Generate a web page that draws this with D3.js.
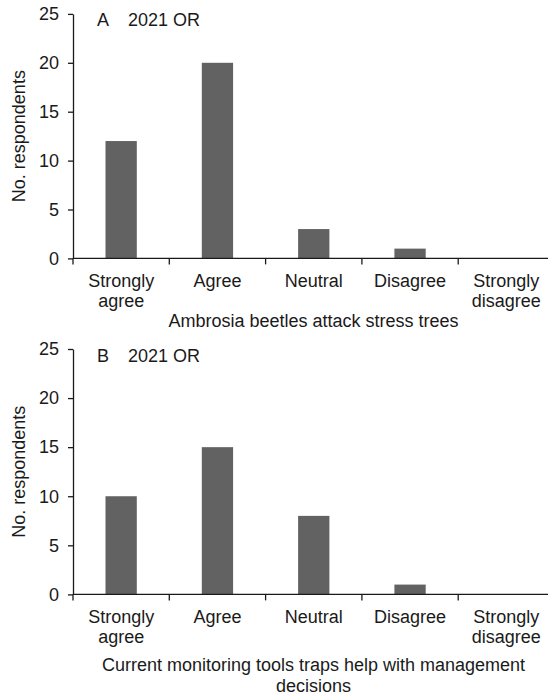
<!DOCTYPE html>
<html><head><meta charset="utf-8">
<script src="https://cdn.jsdelivr.net/npm/d3@7"></script>
<style>body{margin:0;background:#fff}svg{display:block}text{font-family:"Liberation Sans",Arial,sans-serif;fill:#1a1a1a}</style>
</head><body>
<svg id="c" width="548" height="697"></svg>
<script>
const categories = [["Strongly","agree"],["Agree"],["Neutral"],["Disagree"],["Strongly","disagree"]];
const categoryKeys = ["Strongly agree","Agree","Neutral","Disagree","Strongly disagree"];
const valuesA = [12, 20, 3, 1, 0];
const valuesB = [10, 15, 8, 1, 0];
const yTicks = [0, 5, 10, 15, 20, 25];
const panelLabels = ["A", "B"];
const panelSubtitle = "2021 OR";
const xTitles = [["Ambrosia beetles attack stress trees"], ["Current monitoring tools traps help with management","decisions"]];
const yTitle = "No. respondents";

const svg = d3.select("#c");
const x = d3.scaleBand().domain(categoryKeys).range([73, 554.5]).paddingInner(0).paddingOuter(0);
const barW = x.bandwidth() * 0.325;
const panels = [
  {vals: valuesA, y0: 258.4, y1: 13.9, titleOff: 68.5},
  {vals: valuesB, y0: 594.4, y1: 349, titleOff: 76.5}
];
panels.forEach((p, i) => {
  const y = d3.scaleLinear().domain([0, 25]).range([p.y0, p.y1]);
  const g = svg.append("g");
  g.selectAll("rect").data(p.vals).enter().append("rect")
    .attr("x", (d, j) => x(categoryKeys[j]) + x.bandwidth()/2 - barW/2)
    .attr("y", d => y(d))
    .attr("width", barW)
    .attr("height", d => y(0) - y(d))
    .attr("fill", "#626262");
  const ya = g.append("g").attr("transform", `translate(${x.range()[0]},0)`)
    .call(d3.axisLeft(y).tickValues(yTicks).tickSize(5).tickPadding(9).tickSizeOuter(0));
  ya.select(".domain").attr("stroke", "#1a1a1a").attr("stroke-width", 1.3);
  ya.selectAll(".tick line").attr("stroke", "#1a1a1a").attr("stroke-width", 1.3);
  ya.selectAll(".tick text").attr("font-size", 18).attr("font-family", "Liberation Sans, Arial, sans-serif").attr("fill", "#1a1a1a");
  g.append("line").attr("x1", x.range()[0]).attr("x2", x.range()[1]).attr("y1", y(0)).attr("y2", y(0))
    .attr("stroke", "#1a1a1a").attr("stroke-width", 1.3);
  const bounds = categoryKeys.map(k => x(k)).concat([x.range()[1]]);
  g.selectAll("line.xt").data(bounds).enter().append("line").attr("class","xt")
    .attr("x1", d => d).attr("x2", d => d).attr("y1", y(0)).attr("y2", y(0) + 6)
    .attr("stroke", "#1a1a1a").attr("stroke-width", 1.3);
  categories.forEach((lines, j) => {
    const t = g.append("text").attr("text-anchor", "middle").attr("font-size", 18)
      .attr("x", x(categoryKeys[j]) + x.bandwidth()/2).attr("y", y(0) + 28.5);
    lines.forEach((l, k) => t.append("tspan").attr("x", x(categoryKeys[j]) + x.bandwidth()/2).attr("dy", k ? 20 : 0).text(l));
  });
  const xt = g.append("text").attr("text-anchor", "middle").attr("font-size", 18)
    .attr("x", 313.5).attr("y", y(0) + p.titleOff);
  xTitles[i].forEach((l, k) => xt.append("tspan").attr("x", 313.5).attr("dy", k ? 21 : 0).text(l));
  g.append("text").attr("text-anchor", "middle").attr("font-size", 18)
    .attr("transform", `translate(24.5,${(p.y0 + p.y1)/2}) rotate(-90)`).text(yTitle);
  g.append("text").attr("font-size", 18).attr("x", 97).attr("y", y(25) + 12.5).text(panelLabels[i]);
  g.append("text").attr("font-size", 18).attr("x", 128).attr("y", y(25) + 12.5).text(panelSubtitle);
});
</script>
</body></html>
